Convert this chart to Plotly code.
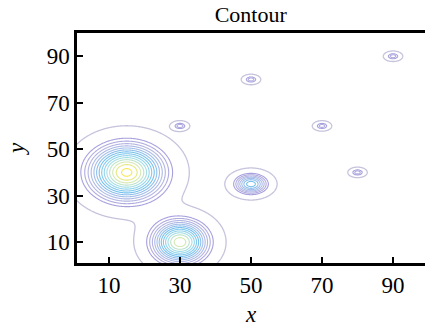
import numpy as np
import plotly.graph_objects as go

# Blob centres, peak heights and widths
cx = [15, 30, 50, 30, 50, 70, 80, 90]
cy = [40, 10, 35, 60, 80, 60, 40, 90]
amp = [1.0, 0.9, 0.6, 0.3, 0.3, 0.3, 0.3, 0.3]
sx = [7.2, 5.4, 3.3, 1.45, 1.45, 1.45, 1.45, 1.45]
sy = [8.2, 6.4, 3.1, 1.2, 1.2, 1.2, 1.2, 1.2]

# contour levels
outer_level = 0.05
inner_start, inner_end, inner_step = 0.2, 0.98, 0.06

tick_vals = [10, 30, 50, 70, 90]
tick_text = ["10", "30", "50", "70", "90"]

xg = np.linspace(0, 100, 501)
yg = np.linspace(0, 100, 501)
X, Y = np.meshgrid(xg, yg)
Z = np.zeros_like(X)
for a, b, h, s1, s2 in zip(cx, cy, amp, sx, sy):
    Z += h * np.exp(-((X - a) ** 2 / (2 * s1 ** 2) + (Y - b) ** 2 / (2 * s2 ** 2)))

outer_color = "#c6c3dc"
cscale = [
    [0.0, "#9890d8"],
    [0.12, "#aba6dc"],
    [0.3, "#98b4e6"],
    [0.48, "#5cb6ec"],
    [0.68, "#92d8e6"],
    [0.85, "#cfe6a6"],
    [1.0, "#f7e43a"],
]

fig = go.Figure()
fig.add_trace(go.Contour(
    x=xg, y=yg, z=Z,
    colorscale=[[0, outer_color], [1, outer_color]],
    contours=dict(coloring="lines", start=outer_level, end=outer_level, size=1),
    line=dict(width=1.3), showscale=False, hoverinfo="skip"))
fig.add_trace(go.Contour(
    x=xg, y=yg, z=Z, colorscale=cscale,
    contours=dict(coloring="lines", start=inner_start, end=inner_end, size=inner_step),
    line=dict(width=1.1), showscale=False, opacity=0.85, hoverinfo="skip"))

font = "Liberation Serif"
fig.update_layout(
    width=425, height=327,
    margin=dict(l=77, r=0, t=33, b=64),
    paper_bgcolor="white", plot_bgcolor="white",
    font=dict(family=font, size=23, color="black"),
    title=dict(text="Contour", x=0.59, xanchor="center", y=0.955, yanchor="middle",
               font=dict(family=font, size=22)),
    showlegend=False,
)
fig.update_xaxes(
    range=[1, 99], tickvals=tick_vals, ticktext=tick_text, automargin=False,
    ticks="inside", ticklen=6, tickwidth=2, tickcolor="black",
    showline=True, linecolor="black", linewidth=2.5, mirror=True,
    showgrid=False, zeroline=False,
    title=dict(text="<i>x</i>", standoff=10, font=dict(size=23)),
)
fig.update_yaxes(
    range=[1, 100], tickvals=tick_vals, ticktext=tick_text, automargin=False,
    ticks="inside", ticklen=6, tickwidth=2, tickcolor="black",
    showline=True, linecolor="black", linewidth=2.5, mirror=False,
    showgrid=False, zeroline=False,
    title=dict(text="<i>y</i>", standoff=16, font=dict(size=23)),
)

fig.write_html("out.html")
